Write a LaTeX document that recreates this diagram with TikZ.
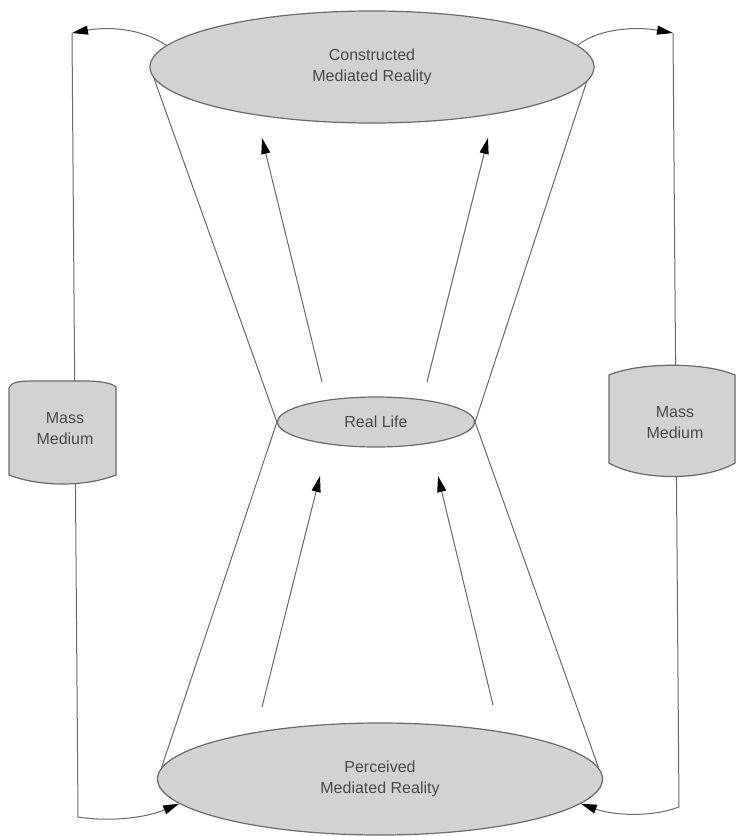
\documentclass[tikz,border=0pt]{standalone}
\usepackage{fontspec}
\setmainfont{Liberation Sans}
\usetikzlibrary{arrows.meta,shapes.geometric}
\definecolor{fillg}{HTML}{D2D2D2}
\definecolor{lineg}{HTML}{6A6A6A}
\definecolor{textg}{HTML}{4A4A4A}
\tikzset{
  ell/.style={ellipse, draw=lineg, line width=1.2pt, fill=fillg, inner sep=0pt,
    text=textg, align=center, font=\fontsize{16}{21}\selectfont},
  conn/.style={draw=lineg, line width=1pt},
  arr/.style={conn, -{Triangle[length=16pt,width=9pt,black]}},
  barrel/.style={draw=lineg, line width=1.2pt, fill=fillg},
  lbl/.style={text=textg, align=center, font=\fontsize{16}{21}\selectfont, inner sep=0pt}
}
\begin{document}
\begin{tikzpicture}[x=1pt,y=-1pt]
\useasboundingbox (0,0) rectangle (737,836);
\fill[white] (0,0) rectangle (737,836);

% ellipses
\node[ell, minimum width=444pt, minimum height=112pt] (top) at (372,67) {Constructed\\Mediated Reality};
\node[ell, minimum width=197pt, minimum height=50pt] (real) at (376,422) {Real Life};
\node[ell, minimum width=445pt, minimum height=112pt] (bot) at (380,779) {Perceived\\Mediated Reality};

% hourglass lines
\draw[conn] (top.183.4) -- (real.180);
\draw[conn] (top.356.6) -- (real.0);
\draw[conn] (real.180) -- (bot.177.7);
\draw[conn] (real.0) -- (bot.3.7);

% inner arrows
\coordinate (a1s) at (322,382); \coordinate (a1e) at (262,138);
\coordinate (a2s) at (427,382); \coordinate (a2e) at (488,138);
\coordinate (a3s) at (262,707); \coordinate (a3e) at (320,476);
\coordinate (a4s) at (493,705); \coordinate (a4e) at (438,476);
\draw[arr] (a1s) -- (a1e);
\draw[arr] (a2s) -- (a2e);
\draw[arr] (a3s) -- (a3e);
\draw[arr] (a4s) -- (a4e);

% side loops
\coordinate (tl) at (72,33);
\coordinate (bl) at (78,817);
\coordinate (tr) at (673,33);
\coordinate (br) at (679,807);
\draw[arr] (top.174) .. controls (140,27) and (105,27) .. (tl);
\draw[conn] (tl) -- (bl);
\draw[arr] (bl) .. controls (110,822) and (145,818) .. (bot.187.4);
\draw[arr] (top.6.8) .. controls (600,27) and (640,27) .. (tr);
\draw[conn] (tr) -- (br);
\draw[arr] (br) .. controls (650,818) and (612,815) .. (bot.353.2);

% mass medium boxes
\path[barrel] (9,475) -- (9,388) .. controls (12,381) and (20,381) .. (40,381)
  -- (85,381) .. controls (100,381) and (112,383) .. (116,387)
  -- (116,475) .. controls (85,487) and (40,487) .. (9,475) -- cycle;
\node[lbl] (mmL) at (65,429) {Mass\\Medium};
\path[barrel] (609,463) -- (609,375) .. controls (640,362) and (705,362) .. (735,375)
  -- (735,463) .. controls (705,481) and (640,481) .. (609,463) -- cycle;
\node[lbl] (mmR) at (675,423) {Mass\\Medium};
\end{tikzpicture}
\end{document}
